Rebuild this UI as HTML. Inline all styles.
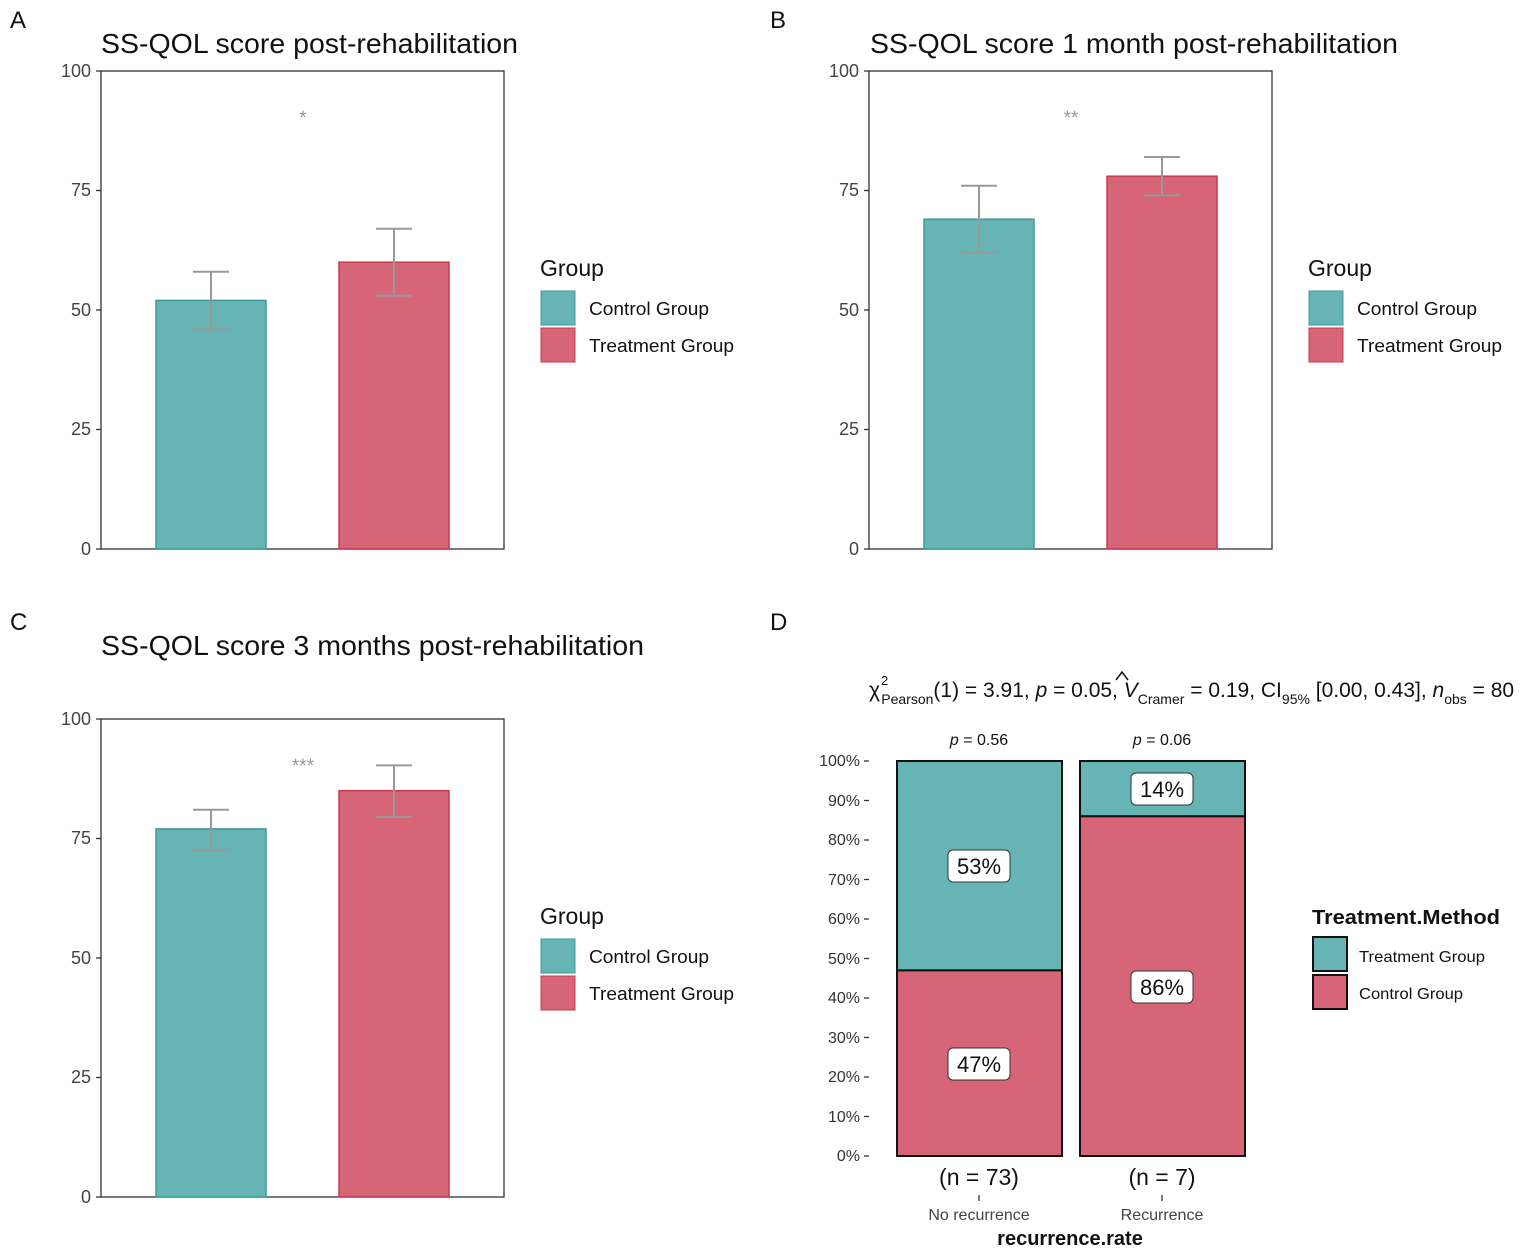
<!DOCTYPE html>
<html><head><meta charset="utf-8"><style>
html,body{margin:0;padding:0;background:#fff;}
svg{display:block;font-family:"Liberation Sans",sans-serif;}
</style></head><body>
<svg width="1535" height="1254" viewBox="0 0 1535 1254" xmlns="http://www.w3.org/2000/svg">
<rect width="1535" height="1254" fill="#fff"/>
<g font-size="24" fill="#111">
<text x="10" y="28">A</text><text x="770" y="28">B</text>
<text x="10" y="630">C</text><text x="770" y="630">D</text>
</g>

<!-- Panel A -->
<text x="101" y="53" font-size="28" fill="#111" textLength="417" lengthAdjust="spacingAndGlyphs">SS-QOL score post-rehabilitation</text>
<rect x="101" y="71" width="403" height="478" fill="none" stroke="#333" stroke-width="1.3"/>
<g stroke="#333" stroke-width="1.3"><line x1="96" x2="101" y1="71" y2="71"/><line x1="96" x2="101" y1="190.5" y2="190.5"/><line x1="96" x2="101" y1="310" y2="310"/><line x1="96" x2="101" y1="429.5" y2="429.5"/><line x1="96" x2="101" y1="549" y2="549"/></g>
<g font-size="18" fill="#444" text-anchor="end"><text x="91" y="77">100</text><text x="91" y="196">75</text><text x="91" y="316">50</text><text x="91" y="435">25</text><text x="91" y="555">0</text></g>
<rect x="156" y="300.4" width="110" height="248.6" fill="#66b4b4" stroke="#3a9c9c" stroke-width="1.5"/>
<rect x="339" y="262.2" width="110" height="286.8" fill="#d66577" stroke="#c8394f" stroke-width="1.5"/>
<g stroke="#999" stroke-width="2" fill="none">
<path d="M193 271.8H229M211 271.8V329.5M193 329.5H229"/>
<path d="M376 228.7H412M394 228.7V295.7M376 295.7H412"/>
</g>
<text x="303" y="124" font-size="19" fill="#999" text-anchor="middle">*</text>
<text x="540" y="276" font-size="23" fill="#111">Group</text>
<rect x="541" y="291" width="34" height="34" fill="#66b4b4" stroke="#3a9c9c"/>
<rect x="541" y="328" width="34" height="34" fill="#d66577" stroke="#c8394f"/>
<text x="589" y="315" font-size="18" fill="#111" textLength="120" lengthAdjust="spacingAndGlyphs">Control Group</text>
<text x="589" y="352" font-size="18" fill="#111" textLength="145" lengthAdjust="spacingAndGlyphs">Treatment Group</text>

<!-- Panel B -->
<text x="870" y="53" font-size="28" fill="#111" textLength="528" lengthAdjust="spacingAndGlyphs">SS-QOL score 1 month post-rehabilitation</text>
<rect x="869" y="71" width="403" height="478" fill="none" stroke="#333" stroke-width="1.3"/>
<g stroke="#333" stroke-width="1.3"><line x1="864" x2="869" y1="71" y2="71"/><line x1="864" x2="869" y1="190.5" y2="190.5"/><line x1="864" x2="869" y1="310" y2="310"/><line x1="864" x2="869" y1="429.5" y2="429.5"/><line x1="864" x2="869" y1="549" y2="549"/></g>
<g font-size="18" fill="#444" text-anchor="end"><text x="859" y="77">100</text><text x="859" y="196">75</text><text x="859" y="316">50</text><text x="859" y="435">25</text><text x="859" y="555">0</text></g>
<rect x="924" y="219.2" width="110" height="329.8" fill="#66b4b4" stroke="#3a9c9c" stroke-width="1.5"/>
<rect x="1107" y="176.2" width="110" height="372.8" fill="#d66577" stroke="#c8394f" stroke-width="1.5"/>
<g stroke="#999" stroke-width="2" fill="none">
<path d="M961 185.7H997M979 185.7V252.6M961 252.6H997"/>
<path d="M1144 157H1180M1162 157V195.3M1144 195.3H1180"/>
</g>
<text x="1071" y="124" font-size="19" fill="#999" text-anchor="middle">**</text>
<text x="1308" y="276" font-size="23" fill="#111">Group</text>
<rect x="1309" y="291" width="34" height="34" fill="#66b4b4" stroke="#3a9c9c"/>
<rect x="1309" y="328" width="34" height="34" fill="#d66577" stroke="#c8394f"/>
<text x="1357" y="315" font-size="18" fill="#111" textLength="120" lengthAdjust="spacingAndGlyphs">Control Group</text>
<text x="1357" y="352" font-size="18" fill="#111" textLength="145" lengthAdjust="spacingAndGlyphs">Treatment Group</text>

<!-- Panel C -->
<text x="101" y="655" font-size="28" fill="#111" textLength="543" lengthAdjust="spacingAndGlyphs">SS-QOL score 3 months post-rehabilitation</text>
<rect x="101" y="719" width="403" height="478" fill="none" stroke="#333" stroke-width="1.3"/>
<g stroke="#333" stroke-width="1.3"><line x1="96" x2="101" y1="719" y2="719"/><line x1="96" x2="101" y1="838.5" y2="838.5"/><line x1="96" x2="101" y1="958" y2="958"/><line x1="96" x2="101" y1="1077.5" y2="1077.5"/><line x1="96" x2="101" y1="1197" y2="1197"/></g>
<g font-size="18" fill="#444" text-anchor="end"><text x="91" y="725">100</text><text x="91" y="844">75</text><text x="91" y="964">50</text><text x="91" y="1083">25</text><text x="91" y="1203">0</text></g>
<rect x="156" y="828.9" width="110" height="368.1" fill="#66b4b4" stroke="#3a9c9c" stroke-width="1.5"/>
<rect x="339" y="790.7" width="110" height="406.3" fill="#d66577" stroke="#c8394f" stroke-width="1.5"/>
<g stroke="#999" stroke-width="2" fill="none">
<path d="M193 809.8H229M211 809.8V850.4M193 850.4H229"/>
<path d="M376 765.4H412M394 765.4V817M376 817H412"/>
</g>
<text x="303" y="772" font-size="19" fill="#999" text-anchor="middle">***</text>
<text x="540" y="924" font-size="23" fill="#111">Group</text>
<rect x="541" y="939" width="34" height="34" fill="#66b4b4" stroke="#3a9c9c"/>
<rect x="541" y="976" width="34" height="34" fill="#d66577" stroke="#c8394f"/>
<text x="589" y="963" font-size="18" fill="#111" textLength="120" lengthAdjust="spacingAndGlyphs">Control Group</text>
<text x="589" y="1000" font-size="18" fill="#111" textLength="145" lengthAdjust="spacingAndGlyphs">Treatment Group</text>

<!-- Panel D -->
<text x="869" y="697" font-size="21" fill="#111"><tspan>χ</tspan><tspan font-size="13" dy="-12" dx="1">2</tspan><tspan font-size="14" dy="19" dx="-7">Pearson</tspan><tspan dy="-7">(1) = 3.91, </tspan><tspan font-style="italic">p</tspan><tspan> = 0.05, </tspan><tspan font-style="italic">V</tspan><tspan font-size="14" dy="7">Cramer</tspan><tspan dy="-7"> = 0.19, CI</tspan><tspan font-size="14" dy="7">95%</tspan><tspan dy="-7"> [0.00, 0.43], </tspan><tspan font-style="italic">n</tspan><tspan font-size="14" dy="7">obs</tspan><tspan dy="-7"> = 80</tspan></text>
<path d="M1116 680 L1122 672 L1128 680" fill="none" stroke="#111" stroke-width="1.5"/>
<text x="979" y="745" font-size="16" fill="#111" text-anchor="middle"><tspan font-style="italic">p</tspan> = 0.56</text>
<text x="1162" y="745" font-size="16" fill="#111" text-anchor="middle"><tspan font-style="italic">p</tspan> = 0.06</text>
<g stroke="#333" stroke-width="1.3">
<line x1="864" x2="869" y1="761" y2="761"/><line x1="864" x2="869" y1="800.5" y2="800.5"/><line x1="864" x2="869" y1="840" y2="840"/><line x1="864" x2="869" y1="879.5" y2="879.5"/><line x1="864" x2="869" y1="919" y2="919"/><line x1="864" x2="869" y1="958.5" y2="958.5"/><line x1="864" x2="869" y1="998" y2="998"/><line x1="864" x2="869" y1="1037.5" y2="1037.5"/><line x1="864" x2="869" y1="1077" y2="1077"/><line x1="864" x2="869" y1="1116.5" y2="1116.5"/><line x1="864" x2="869" y1="1156" y2="1156"/>
<line x1="979" x2="979" y1="1195" y2="1201"/><line x1="1162" x2="1162" y1="1195" y2="1201"/>
</g>
<g font-size="16" fill="#333" text-anchor="end">
<text x="860" y="766">100%</text><text x="860" y="806">90%</text><text x="860" y="845">80%</text><text x="860" y="885">70%</text><text x="860" y="924">60%</text><text x="860" y="964">50%</text><text x="860" y="1003">40%</text><text x="860" y="1043">30%</text><text x="860" y="1082">20%</text><text x="860" y="1122">10%</text><text x="860" y="1161">0%</text>
</g>
<g stroke="#111" stroke-width="2">
<rect x="897" y="761" width="165" height="209.4" fill="#66b4b4"/>
<rect x="897" y="970.4" width="165" height="185.6" fill="#d66577"/>
<rect x="1080" y="761" width="165" height="55.3" fill="#66b4b4"/>
<rect x="1080" y="816.3" width="165" height="339.7" fill="#d66577"/>
</g>
<g stroke="#333" stroke-width="1" fill="#fff">
<rect x="948" y="850" width="62" height="32" rx="5"/>
<rect x="948" y="1048" width="62" height="32" rx="5"/>
<rect x="1131" y="773" width="62" height="32" rx="5"/>
<rect x="1131" y="971" width="62" height="32" rx="5"/>
</g>
<g font-size="22" fill="#111" text-anchor="middle">
<text x="979" y="874">53%</text><text x="979" y="1072">47%</text><text x="1162" y="797">14%</text><text x="1162" y="995">86%</text>
<text x="979" y="1185" font-size="23">(n = 73)</text><text x="1162" y="1185" font-size="23">(n = 7)</text>
</g>
<text x="979" y="1220" font-size="16" fill="#444" text-anchor="middle">No recurrence</text>
<text x="1162" y="1220" font-size="16" fill="#444" text-anchor="middle">Recurrence</text>
<text x="1070" y="1245" font-size="20" font-weight="bold" fill="#111" text-anchor="middle">recurrence.rate</text>
<text x="1312" y="924" font-size="20" font-weight="bold" fill="#111" textLength="188" lengthAdjust="spacingAndGlyphs">Treatment.Method</text>
<rect x="1313" y="937" width="34" height="34" fill="#66b4b4" stroke="#111" stroke-width="2"/>
<rect x="1313" y="975" width="34" height="34" fill="#d66577" stroke="#111" stroke-width="2"/>
<text x="1359" y="962" font-size="16" fill="#111" textLength="126" lengthAdjust="spacingAndGlyphs">Treatment Group</text>
<text x="1359" y="999" font-size="16" fill="#111" textLength="104" lengthAdjust="spacingAndGlyphs">Control Group</text>
</svg>
</body></html>
